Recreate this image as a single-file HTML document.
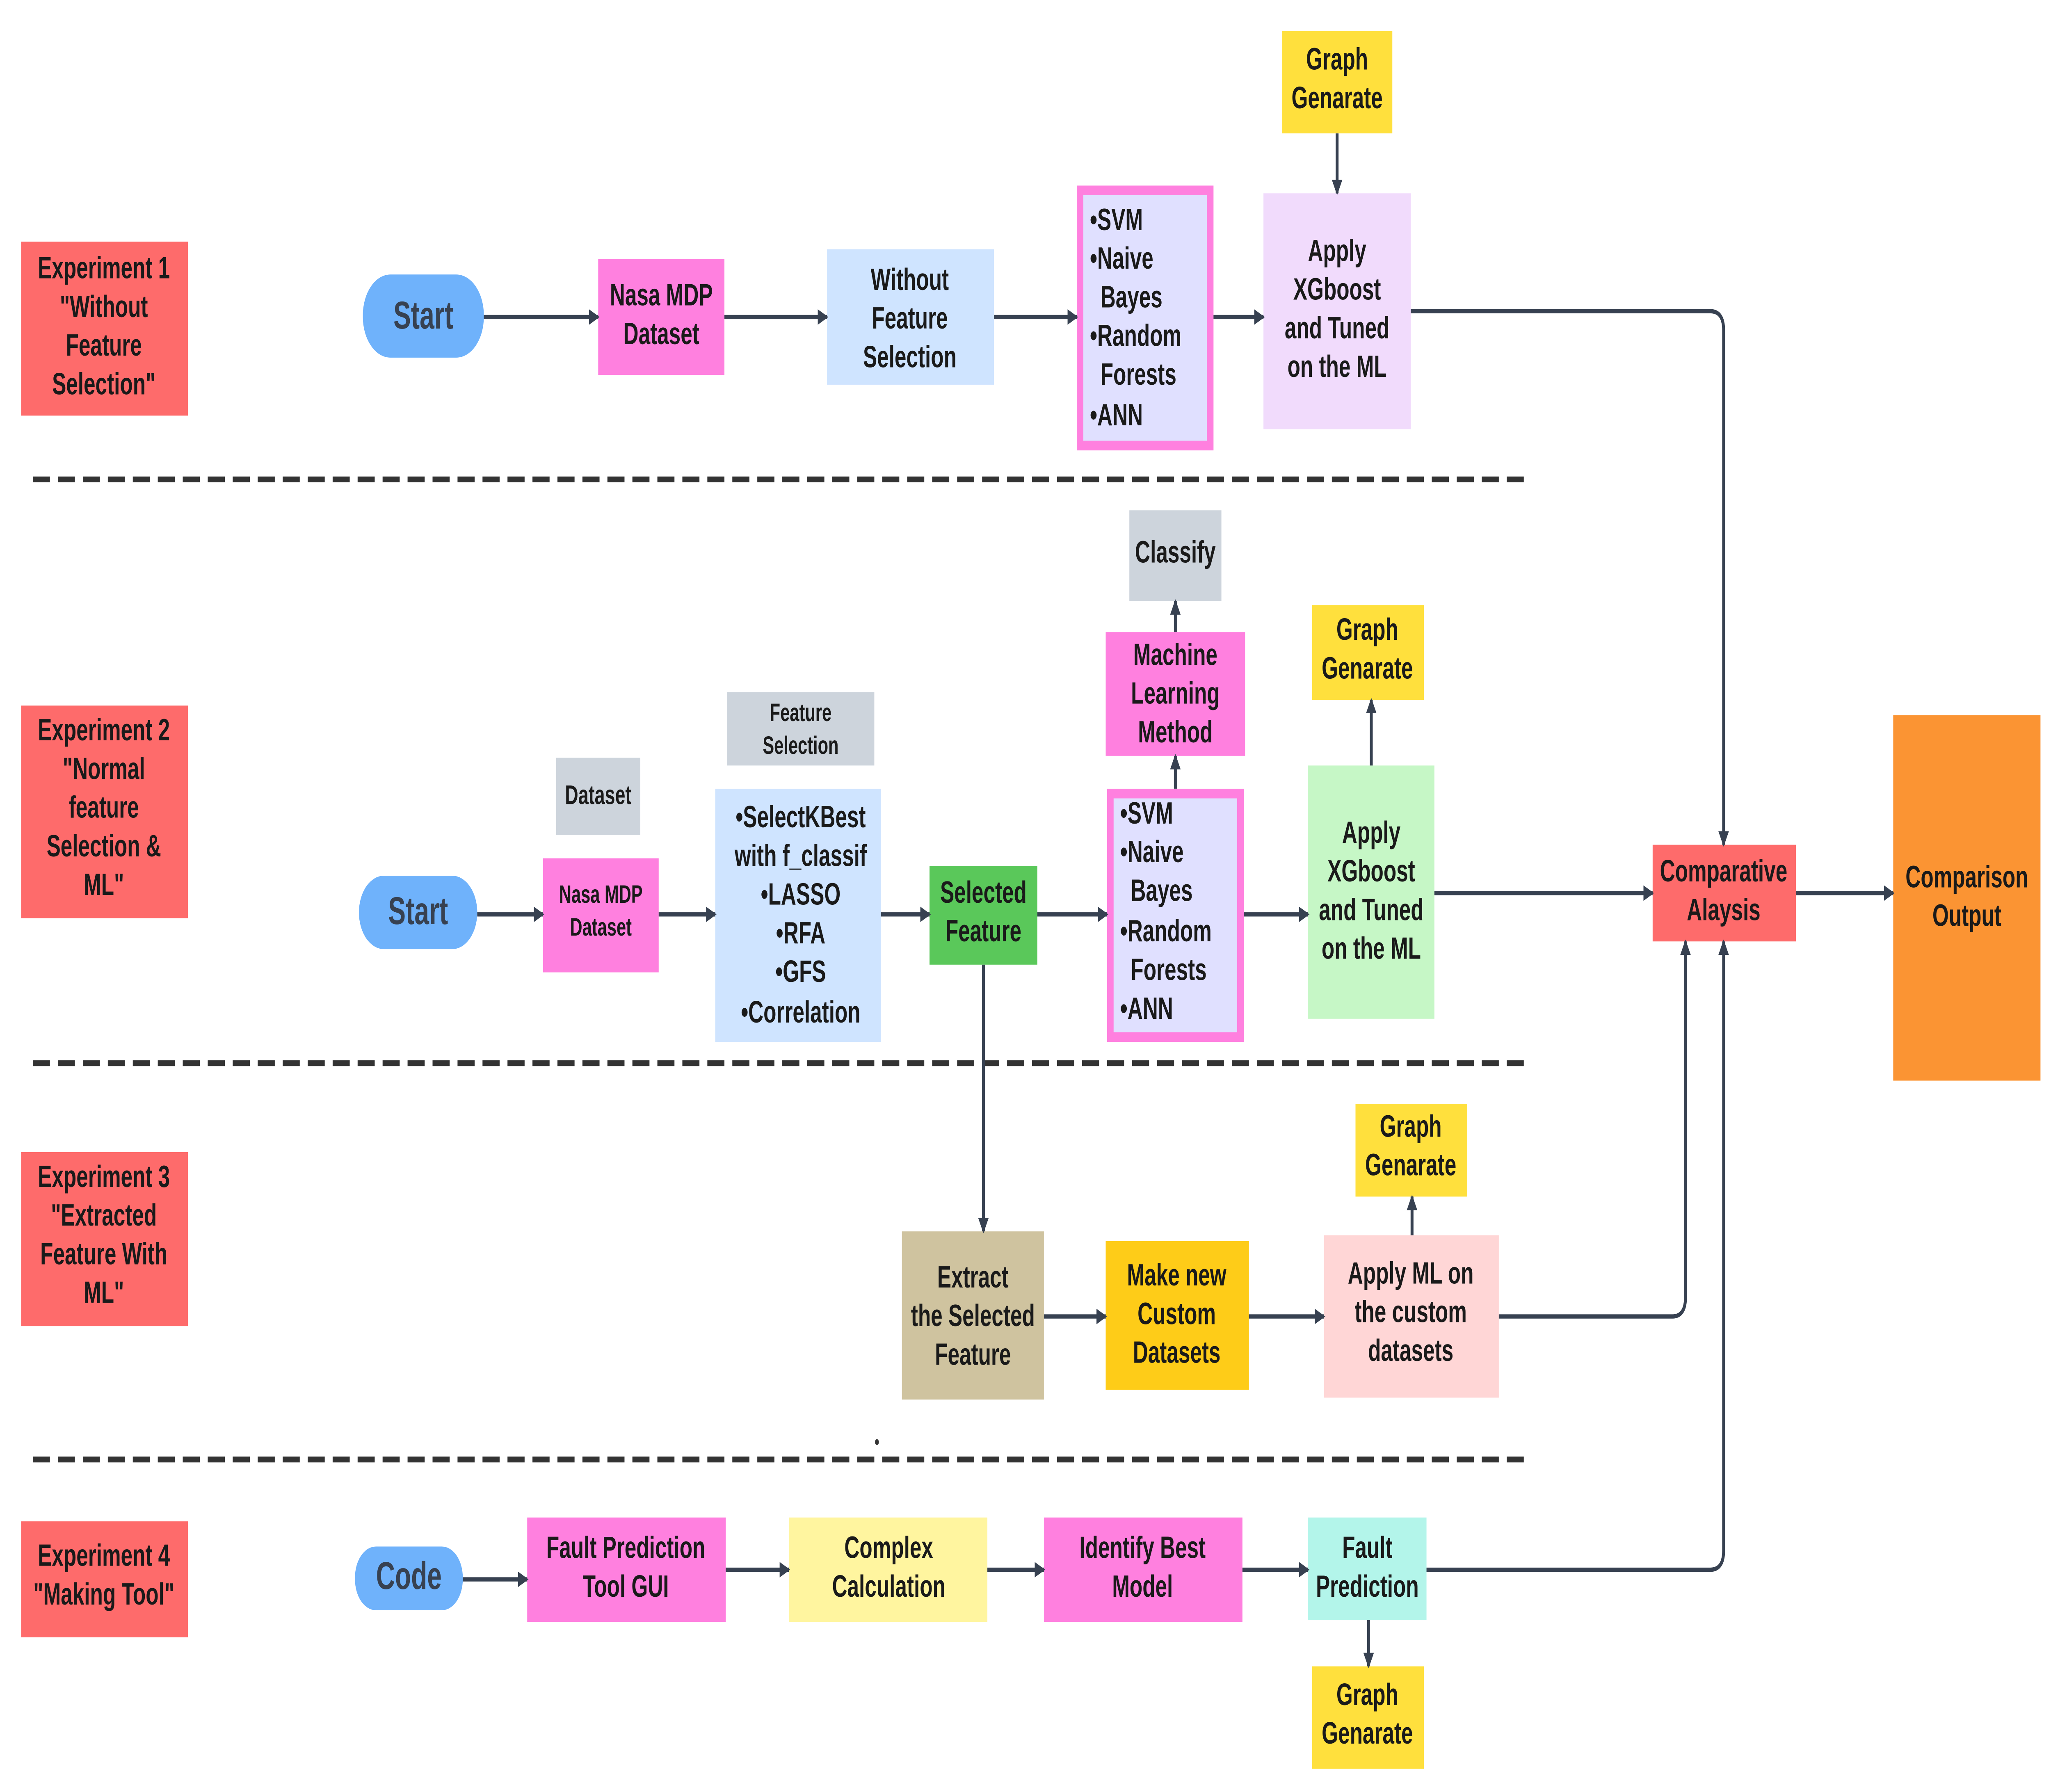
<!DOCTYPE html>
<html><head><meta charset="utf-8"><style>html,body{margin:0;padding:0;background:#fff;width:100%;height:100%;overflow:hidden}svg{display:block;width:100vw;height:100vh}</style></head>
<body>
<svg viewBox="0 0 1560 927" preserveAspectRatio="none" xmlns="http://www.w3.org/2000/svg" font-family="Liberation Sans, sans-serif" font-weight="bold">
<defs><marker id="a" markerWidth="8" markerHeight="8" refX="7" refY="4" orient="auto" markerUnits="userSpaceOnUse"><path d="M0,0 L8,4 L0,8 z" fill="#374151"/></marker></defs>
<rect width="1560" height="927" fill="#fff"/>
<g stroke="#333" stroke-width="3" stroke-dasharray="13 6">
<line x1="25" y1="248" x2="1163" y2="248"/><line x1="25" y1="550" x2="1163" y2="550"/><line x1="25" y1="755" x2="1163" y2="755"/></g>
<circle cx="667" cy="746" r="1.5" fill="#333"/>
<g>
<rect x="16" y="125" width="127" height="90" fill="#fe6b6b"/>
<rect x="16" y="365" width="127" height="110" fill="#fe6b6b"/>
<rect x="16" y="596" width="127" height="90" fill="#fe6b6b"/>
<rect x="16" y="787" width="127" height="60" fill="#fe6b6b"/>
<rect x="276" y="142" width="92" height="43" rx="21" fill="#6fb2fb"/>
<rect x="273" y="453" width="90" height="38" rx="19" fill="#6fb2fb"/>
<rect x="270" y="800" width="82" height="33" rx="16" fill="#6fb2fb"/>
<rect x="455" y="134" width="96" height="60" fill="#ff80df"/>
<rect x="629" y="129" width="127" height="70" fill="#cfe4ff"/>
<rect x="821.5" y="98.5" width="99" height="132" fill="#e0e0ff" stroke="#ff80df" stroke-width="5"/>
<rect x="961" y="100" width="112" height="122" fill="#f1dbfc"/>
<rect x="975" y="16" width="84" height="53" fill="#ffe03d"/>
<rect x="423" y="392" width="64" height="40" fill="#cdd4dc"/>
<rect x="413" y="444" width="88" height="59" fill="#ff80df"/>
<rect x="553" y="358" width="112" height="38" fill="#cdd4dc"/>
<rect x="544" y="408" width="126" height="131" fill="#cfe4ff"/>
<rect x="707" y="448" width="82" height="51" fill="#5ac85a"/>
<rect x="844.5" y="410.5" width="99" height="126" fill="#e0e0ff" stroke="#ff80df" stroke-width="5"/>
<rect x="841" y="327" width="106" height="64" fill="#ff80df"/>
<rect x="859" y="264" width="70" height="47" fill="#cdd4dc"/>
<rect x="995" y="396" width="96" height="131" fill="#c6f7c6"/>
<rect x="998" y="313" width="85" height="49" fill="#ffe03d"/>
<rect x="1257" y="437" width="109" height="50" fill="#fe6b6b"/>
<rect x="1440" y="370" width="112" height="189" fill="#fb9433"/>
<rect x="686" y="637" width="108" height="87" fill="#cfc39f"/>
<rect x="841" y="642" width="109" height="77" fill="#fecc18"/>
<rect x="1007" y="639" width="133" height="84" fill="#ffd6d6"/>
<rect x="1031" y="571" width="85" height="48" fill="#ffe03d"/>
<rect x="401" y="785" width="151" height="54" fill="#ff80df"/>
<rect x="600" y="785" width="151" height="54" fill="#fff59f"/>
<rect x="794" y="785" width="151" height="54" fill="#ff80df"/>
<rect x="995" y="785" width="90" height="53" fill="#b3f5ea"/>
<rect x="998" y="862" width="85" height="53" fill="#ffe03d"/>
</g>
<g stroke="#374151" stroke-width="2.2" fill="none" marker-end="url(#a)">
<line x1="368" y1="164" x2="455" y2="164"/><line x1="551" y1="164" x2="629" y2="164"/>
<line x1="756" y1="164" x2="819" y2="164"/><line x1="923" y1="164" x2="961" y2="164"/>
<line x1="1017" y1="69" x2="1017" y2="100"/>
<path d="M1073,161 H1301 Q1311,161 1311,171 V437"/>
<line x1="363" y1="473" x2="413" y2="473"/><line x1="501" y1="473" x2="544" y2="473"/>
<line x1="670" y1="473" x2="707" y2="473"/><line x1="789" y1="473" x2="842" y2="473"/>
<line x1="946" y1="473" x2="995" y2="473"/><line x1="1091" y1="462" x2="1257" y2="462"/>
<line x1="1366" y1="462" x2="1440" y2="462"/>
<line x1="894" y1="408" x2="894" y2="391"/><line x1="894" y1="327" x2="894" y2="311"/>
<line x1="1043" y1="396" x2="1043" y2="362"/><line x1="748" y1="499" x2="748" y2="637"/>
<line x1="794" y1="681" x2="841" y2="681"/><line x1="950" y1="681" x2="1007" y2="681"/>
<line x1="1074" y1="639" x2="1074" y2="619"/>
<path d="M1140,681 H1272 Q1282,681 1282,671 V487"/>
<line x1="352" y1="817" x2="401" y2="817"/><line x1="552" y1="812" x2="600" y2="812"/>
<line x1="751" y1="812" x2="794" y2="812"/><line x1="945" y1="812" x2="995" y2="812"/>
<line x1="1041" y1="838" x2="1041" y2="862"/>
<path d="M1085,812 H1301 Q1311,812 1311,802 V487"/>
</g>
<g fill="#1a1a1a" font-size="16" text-anchor="middle">
<text x="79" y="144">Experiment 1</text><text x="79" y="164">"Without</text><text x="79" y="184">Feature</text><text x="79" y="204">Selection"</text>
<text x="79" y="383">Experiment 2</text><text x="79" y="403">"Normal</text><text x="79" y="423">feature</text><text x="79" y="443">Selection &amp;</text><text x="79" y="463">ML"</text>
<text x="79" y="614">Experiment 3</text><text x="79" y="634">"Extracted</text><text x="79" y="654">Feature With</text><text x="79" y="674">ML"</text>
<text x="79" y="810">Experiment 4</text><text x="79" y="830">"Making Tool"</text>
<text x="322" y="170" font-size="20" fill="#374151">Start</text>
<text x="318" y="478" font-size="20" fill="#374151">Start</text>
<text x="311" y="822" font-size="20" fill="#374151">Code</text>
<text x="503" y="158">Nasa MDP</text><text x="503" y="178">Dataset</text>
<text x="692" y="150">Without</text><text x="692" y="170">Feature</text><text x="692" y="190">Selection</text>
<g text-anchor="start"><text x="829" y="119">•SVM</text><text x="829" y="139">•Naive</text><text x="837" y="159">Bayes</text><text x="829" y="179">•Random</text><text x="837" y="199">Forests</text><text x="829" y="220">•ANN</text>
<text x="852" y="426">•SVM</text><text x="852" y="446">•Naive</text><text x="860" y="466">Bayes</text><text x="852" y="487">•Random</text><text x="860" y="507">Forests</text><text x="852" y="527">•ANN</text></g>
<text x="1017" y="135">Apply</text><text x="1017" y="155">XGboost</text><text x="1017" y="175">and Tuned</text><text x="1017" y="195">on the ML</text>
<text x="1017" y="36">Graph</text><text x="1017" y="56">Genarate</text>
<text x="455" y="416" font-size="14">Dataset</text>
<text x="457" y="467" font-size="13">Nasa MDP</text><text x="457" y="484" font-size="13">Dataset</text>
<text x="609" y="373" font-size="13">Feature</text><text x="609" y="390" font-size="13">Selection</text>
<text x="609" y="428">•SelectKBest</text><text x="609" y="448">with f_classif</text><text x="609" y="468">•LASSO</text><text x="609" y="488">•RFA</text><text x="609" y="508">•GFS</text><text x="609" y="529">•Correlation</text>
<text x="748" y="467">Selected</text><text x="748" y="487">Feature</text>
<text x="894" y="344">Machine</text><text x="894" y="364">Learning</text><text x="894" y="384">Method</text>
<text x="894" y="291">Classify</text>
<text x="1043" y="436">Apply</text><text x="1043" y="456">XGboost</text><text x="1043" y="476">and Tuned</text><text x="1043" y="496">on the ML</text>
<text x="1040" y="331">Graph</text><text x="1040" y="351">Genarate</text>
<text x="1311" y="456">Comparative</text><text x="1311" y="476">Alaysis</text>
<text x="1496" y="459">Comparison</text><text x="1496" y="479">Output</text>
<text x="740" y="666">Extract</text><text x="740" y="686">the Selected</text><text x="740" y="706">Feature</text>
<text x="895" y="665">Make new</text><text x="895" y="685">Custom</text><text x="895" y="705">Datasets</text>
<text x="1073" y="664">Apply ML on</text><text x="1073" y="684">the custom</text><text x="1073" y="704">datasets</text>
<text x="1073" y="588">Graph</text><text x="1073" y="608">Genarate</text>
<text x="476" y="806">Fault Prediction</text><text x="476" y="826">Tool GUI</text>
<text x="676" y="806">Complex</text><text x="676" y="826">Calculation</text>
<text x="869" y="806">Identify Best</text><text x="869" y="826">Model</text>
<text x="1040" y="806">Fault</text><text x="1040" y="826">Prediction</text>
<text x="1040" y="882">Graph</text><text x="1040" y="902">Genarate</text>
</g>
</svg>
</body></html>
